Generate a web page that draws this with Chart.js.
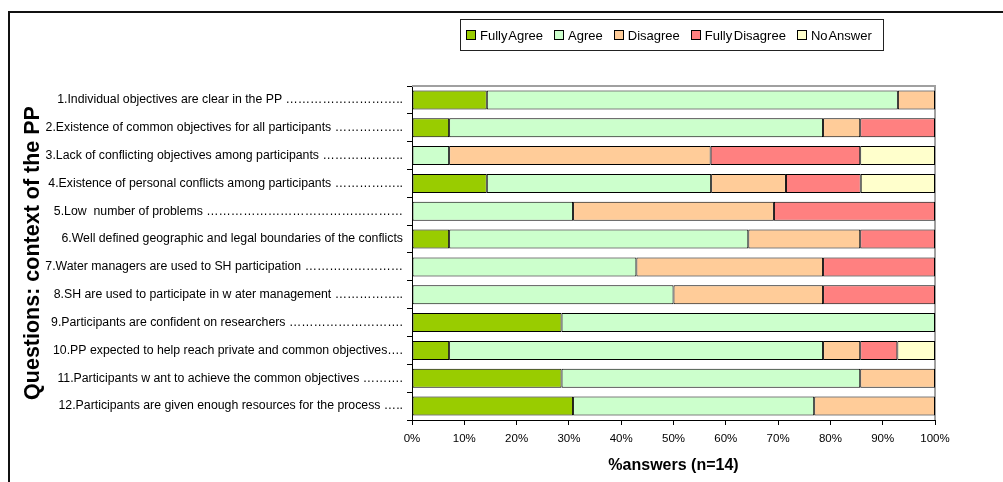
<!DOCTYPE html>
<html>
<head>
<meta charset="utf-8">
<script src="https://cdn.jsdelivr.net/npm/chart.js@4/dist/chart.umd.min.js"></script>
<style>
  html, body { margin: 0; padding: 0; background: #fff; }
  #wrap { position: relative; width: 1003px; height: 482px; }
  #frame { position: absolute; left: 8px; top: 11px; right: 0; bottom: 0; border-left: 2px solid #111; border-top: 2px solid #111; }
  #legend {
    position: absolute; left: 460px; top: 19px; width: 424px; height: 32px;
    border: 1px solid #222; box-sizing: border-box; padding-left: 5px;
    display: flex; align-items: center; justify-content: flex-start; gap: 11px;
    font-family: "Liberation Sans", Arial, sans-serif; font-size: 13px; color: #000;
    white-space: nowrap; word-spacing: -2px;
  }
  #legend span.sw { display: inline-block; width: 8px; height: 8px; border: 1px solid #000; margin-right: 4px; vertical-align: middle; position: relative; top: -1px; }
  canvas { position: absolute; left: 0; top: 0; }
</style>
</head>
<body>
<div id="wrap">
  <div id="frame"></div>
  <canvas id="chart" width="1003" height="482"></canvas>
  <div id="legend"></div>
</div>
<script>
/* chart data */
var questions = [
    '1.Individual objectives are clear in the PP \u2026\u2026\u2026\u2026\u2026\u2026\u2026\u2026\u2026..',
    '2.Existence of common objectives for all participants \u2026\u2026\u2026\u2026\u2026..',
    '3.Lack of conflicting objectives among participants \u2026\u2026\u2026\u2026\u2026\u2026..',
    '4.Existence of personal conflicts among participants \u2026\u2026\u2026\u2026\u2026..',
    '5.Low  number of problems \u2026\u2026\u2026\u2026\u2026\u2026\u2026\u2026\u2026\u2026\u2026\u2026\u2026\u2026\u2026\u2026',
    '6.Well defined geographic and legal boundaries of the conflicts',
    '7.Water managers are used to SH participation \u2026\u2026\u2026\u2026\u2026\u2026\u2026\u2026',
    '8.SH are used to participate in w ater management \u2026\u2026\u2026\u2026\u2026..',
    '9.Participants are confident on researchers \u2026\u2026\u2026\u2026\u2026\u2026\u2026\u2026\u2026.',
    '10.PP expected to help reach private and common objectives\u2026.',
    '11.Participants w ant to achieve the common objectives \u2026\u2026\u2026.',
    '12.Participants are given enough resources for the process \u2026..'
];

var answerLabels = ['Fully Agree', 'Agree', 'Disagree', 'Fully Disagree', 'No Answer'];
var answerColors = ['#99CC00', '#CCFFCC', '#FFCC99', '#FF8080', '#FFFFCC'];

var fullyAgree    = [14.3, 7.1, null, 14.3, null, 7.1, null, null, 28.6, 7.1, 28.6, 30.8];
var agree         = [78.6, 71.5, 7.1, 42.9, 30.8, 57.2, 42.9, 50.0, 71.4, 71.5, 57.1, 46.1];
var disagree      = [7.1, 7.1, 50.0, 14.3, 38.4, 21.4, 35.7, 28.6, null, 7.1, 14.3, 23.1];
var fullyDisagree = [null, 14.3, 28.6, 14.3, 30.8, 14.3, 21.4, 21.4, null, 7.1, null, null];
var noAnswer      = [null, null, 14.3, 14.2, null, null, null, null, null, 7.2, null, null];

var xTicks = [0, 10, 20, 30, 40, 50, 60, 70, 80, 90, 100];

var series = [fullyAgree, agree, disagree, fullyDisagree, noAnswer];

/* legend */
var legendEl = document.getElementById('legend');
answerLabels.forEach(function(lbl, i) {
    var item = document.createElement('div');
    item.innerHTML = '<span class="sw" style="background:' + answerColors[i] + '"></span>' + lbl;
    legendEl.appendChild(item);
});

/* grey top/right edge of the plot area */
var plotBorder = {
    id: 'plotBorder',
    beforeDatasetsDraw: function(chart) {
        var a = chart.chartArea, ctx = chart.ctx;
        ctx.save();
        ctx.strokeStyle = '#a0a0a0';
        ctx.lineWidth = 2;
        ctx.beginPath();
        ctx.moveTo(a.left, a.top);
        ctx.lineTo(a.right, a.top);
        ctx.lineTo(a.right, a.bottom);
        ctx.stroke();
        ctx.restore();
    }
};

var fontFamily = '"Liberation Sans", Arial, sans-serif';

new Chart(document.getElementById('chart').getContext('2d'), {
    type: 'bar',
    data: {
        labels: questions,
        datasets: series.map(function(vals, i) {
            return {
                label: answerLabels[i],
                data: vals,
                backgroundColor: answerColors[i],
                borderColor: '#000',
                borderWidth: 1,
                borderSkipped: false,
                barPercentage: 0.68,
                categoryPercentage: 1.0
            };
        })
    },
    options: {
        indexAxis: 'y',
        responsive: false,
        animation: false,
        layout: { padding: { left: 0, top: 86, right: 68, bottom: 0 } },
        plugins: {
            legend: { display: false },
            tooltip: { enabled: false }
        },
        scales: {
            x: {
                stacked: true,
                min: 0,
                max: 100,
                afterBuildTicks: function(scale) {
                    scale.ticks = xTicks.map(function(v) { return { value: v }; });
                },
                afterFit: function(scale) { scale.height = 62; },
                ticks: {
                    color: '#000',
                    font: { family: fontFamily, size: 11.5 },
                    padding: 7,
                    maxRotation: 0,
                    callback: function(v) { return v + '%'; }
                },
                grid: { display: true, drawOnChartArea: false, drawTicks: true, tickLength: 5, color: '#000' },
                border: { display: true, color: '#000', width: 1 },
                title: {
                    display: true,
                    text: '%answers (n=14)',
                    color: '#000',
                    font: { family: fontFamily, size: 16, weight: 'bold' },
                    padding: { top: 0, bottom: 7 }
                }
            },
            y: {
                stacked: true,
                afterFit: function(scale) { scale.width = 412; },
                ticks: {
                    color: '#000',
                    font: { family: fontFamily, size: 12.3 },
                    padding: 4,
                    autoSkip: false
                },
                grid: { display: true, drawOnChartArea: false, drawTicks: true, tickLength: 5, color: '#000', offset: true },
                border: { display: true, color: '#000', width: 1 },
                title: {
                    display: true,
                    text: 'Questions: context of the PP',
                    color: '#000',
                    font: { family: fontFamily, size: 21.5, weight: 'bold' },
                    padding: { top: 20, bottom: 0 }
                }
            }
        }
    },
    plugins: [plotBorder]
});
</script>
</body>
</html>
